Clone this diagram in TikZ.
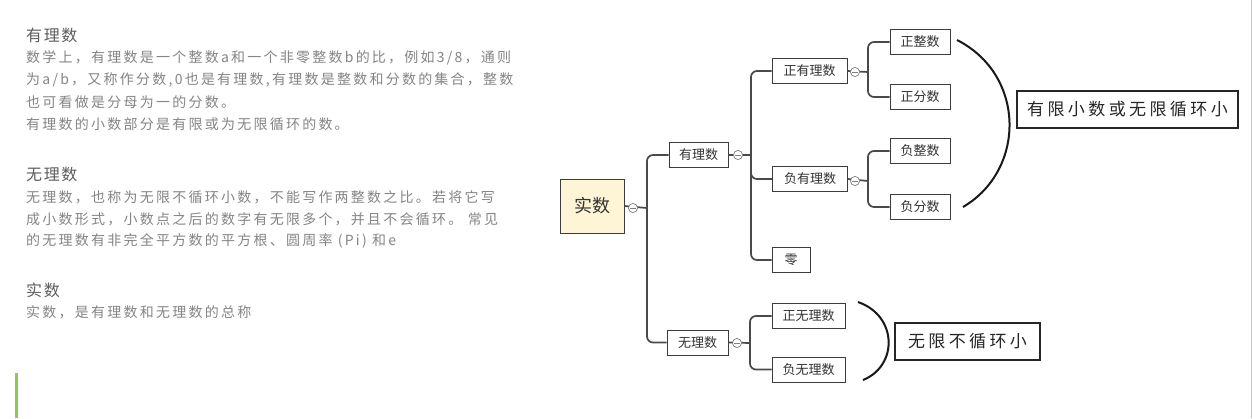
\documentclass[tikz,border=0pt]{standalone}
\usepackage{fontspec}
\setmainfont{Noto Sans CJK SC}
\newfontfamily\cjk{Noto Sans CJK SC}
\newfontfamily\cjkls[LetterSpace=16]{Noto Sans CJK SC}
\newfontfamily\cjkhd[LetterSpace=10]{Noto Sans CJK SC}
\newfontfamily\cjknote[LetterSpace=20]{Noto Sans CJK SC}
\definecolor{bodygray}{HTML}{858585}
\definecolor{headgray}{HTML}{5E5E5E}
\definecolor{linegray}{HTML}{4A4A4A}
\definecolor{boxline}{HTML}{3C3C3C}
\definecolor{rootfill}{HTML}{FDF5D5}
\definecolor{greenbar}{HTML}{8CCB4E}
\definecolor{edgegray}{HTML}{C8C8C8}
\begin{document}
\begin{tikzpicture}[x=1pt,y=-1pt,
  body/.style={anchor=west,inner sep=0pt,text=bodygray,font=\cjkls\fontsize{14}{16}\selectfont},
  head/.style={anchor=west,inner sep=0pt,text=headgray,font=\cjkhd\fontsize{16}{18}\selectfont},
  topic/.style={draw=boxline,line width=0.9pt,fill=white,text=black!80,font=\cjk\fontsize{13}{15}\selectfont,inner sep=0pt,minimum height=25pt},
  root/.style={draw=boxline,line width=1pt,fill=rootfill,text=black!80,font=\cjk\fontsize{18}{20}\selectfont,minimum width=64pt,minimum height=54pt,inner sep=0pt},
  conn/.style={draw=linegray,line width=1.7pt,rounded corners=6pt},
  collapse/.style={circle,draw=gray,line width=0.6pt,fill=white,minimum size=9pt,inner sep=0pt,
    path picture={\draw[gray,line width=0.6pt] ([xshift=-2.6pt]path picture bounding box.center) -- ([xshift=2.6pt]path picture bounding box.center);}},
  note/.style={draw=black!85,line width=1.8pt,fill=white,text=black!85,font=\cjknote\fontsize{17}{19}\selectfont,inner sep=0pt},
  brace/.style={draw=black!90,line width=2pt}
]
\useasboundingbox (0,0) rectangle (1253,418);
\fill[white] (0,0) rectangle (1253,418);
% right edge line and green bar
\draw[edgegray,line width=1.2pt] (1251.5,0) -- (1251.5,418);
\fill[greenbar] (15,373) rectangle (17.5,418);

% left text
\node[head] (h1) at (26,35) {有理数};
\node[body] (t11) at (26,58) {数学上，有理数是一个整数a和一个非零整数b的比，例如3/8，通则};
\node[body] (t12) at (26,80) {为a/b，又称作分数,0也是有理数,有理数是整数和分数的集合，整数};
\node[body] (t13) at (26,102) {也可看做是分母为一的分数。};
\node[body] (t14) at (26,124) {有理数的小数部分是有限或为无限循环的数。};

\node[head] (h2) at (26,174) {无理数};
\node[body] (t21) at (26,197) {无理数，也称为无限不循环小数，不能写作两整数之比。若将它写};
\node[body] (t22) at (26,219) {成小数形式，小数点之后的数字有无限多个，并且不会循环。 常见};
\node[body] (t23) at (26,241) {的无理数有非完全平方数的平方根、圆周率 (Pi) 和e};

\node[head] (h3) at (26,290) {实数};
\node[body] (t31) at (26,312) {实数，是有理数和无理数的总称};

% mind map nodes
\node[root] (shishu) at (592,206) {实数};
\node[collapse] (c0) at (633,208) {};
\node[topic,minimum width=59pt] (youli) at (698.5,155) {有理数};
\node[collapse] (c1) at (738,155) {};
\node[topic,minimum width=61pt] (wuli) at (697.5,342.5) {无理数};
\node[collapse] (c4) at (737,343) {};
\node[topic,minimum width=75pt] (zyl) at (809.5,71) {正有理数};
\node[collapse] (c2) at (855,72) {};
\node[topic,minimum width=75pt] (fyl) at (810,179) {负有理数};
\node[collapse] (c3) at (855,181) {};
\node[topic,minimum width=38pt] (ling) at (791,260) {零};
\node[topic,minimum width=60pt] (zzs) at (920,42) {正整数};
\node[topic,minimum width=60pt] (zfs) at (920,97) {正分数};
\node[topic,minimum width=60pt] (fzs) at (920,151) {负整数};
\node[topic,minimum width=60pt] (ffs) at (920,207) {负分数};
\node[topic,minimum width=73pt] (zwl) at (808.5,316) {正无理数};
\node[topic,minimum width=73pt] (fwl) at (808.5,369.5) {负无理数};

% junctions
\coordinate (j0) at (647,208);
\coordinate (j1) at (751,155);
\coordinate (j2) at (868,72);
\coordinate (j3) at (868,181);
\coordinate (j4) at (750,343);

% connectors
\draw[conn] (shishu.east) -- (j0);
\draw[conn] (j0) |- (youli.west);
\draw[conn] (j0) |- (wuli.west);
\draw[conn] (youli.east) -- (j1);
\draw[conn] (j1) |- (zyl.west);
\draw[conn] (j1) |- (fyl.west);
\draw[conn] (j1) |- (ling.west);
\draw[conn] (zyl.east) -- (j2);
\draw[conn] (j2) |- (zzs.west);
\draw[conn] (j2) |- (zfs.west);
\draw[conn] (fyl.east) -- (j3);
\draw[conn] (j3) |- (fzs.west);
\draw[conn] (j3) |- (ffs.west);
\draw[conn] (wuli.east) -- (j4);
\draw[conn] (j4) |- (zwl.west);
\draw[conn] (j4) |- (fwl.west);
% redraw collapse markers on top
\node[collapse] at (c0) {};
\node[collapse] at (c1) {};
\node[collapse] at (c2) {};
\node[collapse] at (c3) {};
\node[collapse] at (c4) {};

% notes
\coordinate (b1s) at (957,40);
\coordinate (b1e) at (963,207);
\draw[brace] (b1s) .. controls (1026,75) and (1026,170) .. (b1e);
\node[note,minimum width=221pt,minimum height=37pt] (n1) at (1127.5,109.5) {有限小数或无限循环小};

\coordinate (b2s) at (858,302);
\coordinate (b2e) at (863,380);
\draw[brace] (b2s) .. controls (898,316) and (898,366) .. (b2e);
\node[note,minimum width=145pt,minimum height=37pt] (n2) at (967.5,341.5) {无限不循环小};
\end{tikzpicture}
\end{document}
